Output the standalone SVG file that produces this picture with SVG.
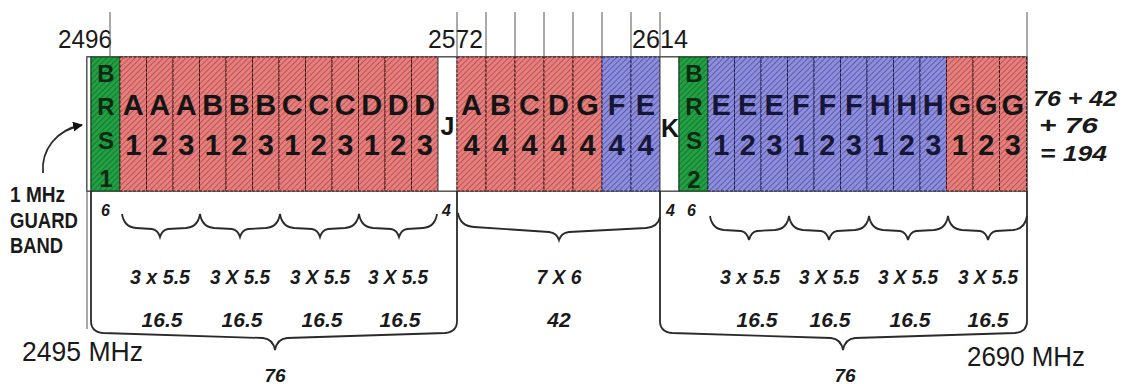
<svg xmlns="http://www.w3.org/2000/svg" width="1125" height="384" viewBox="0 0 1125 384">
<defs>
<pattern id="hr" width="4" height="4" patternUnits="userSpaceOnUse" patternTransform="rotate(45)"><rect width="4" height="4" fill="#e6807f"/><line x1="0.5" y1="0" x2="0.5" y2="4" stroke="#bd5354" stroke-width="1.1"/></pattern>
<pattern id="hb" width="4" height="4" patternUnits="userSpaceOnUse" patternTransform="rotate(45)"><rect width="4" height="4" fill="#8e8edc"/><line x1="0.5" y1="0" x2="0.5" y2="4" stroke="#5d5db0" stroke-width="1.1"/></pattern>
<pattern id="hg" width="4" height="4" patternUnits="userSpaceOnUse" patternTransform="rotate(45)"><rect width="4" height="4" fill="#23a044"/><line x1="0.5" y1="0" x2="0.5" y2="4" stroke="#137a30" stroke-width="1.1"/></pattern>
<marker id="ah" viewBox="0 0 10 10" refX="9" refY="5" markerWidth="10" markerHeight="10" markerUnits="userSpaceOnUse" orient="auto"><path d="M0,0 L10,5 L0,10 Z" fill="#111"/></marker>
</defs>
<style>
.r{fill:url(#hr);stroke:#3a1414;stroke-width:1;stroke-dasharray:3 1.5}
.b{fill:url(#hb);stroke:#1e1e4a;stroke-width:1;stroke-dasharray:3 1.5}
.g{fill:url(#hg);stroke:#0d3d18;stroke-width:1}
.cl{font-family:"Liberation Sans",Arial,sans-serif;font-weight:bold;font-size:29px;fill:#151515;text-anchor:middle}
.bl{font-family:"Liberation Sans",Arial,sans-serif;font-weight:bold;font-size:29px;fill:#161638;text-anchor:middle}
.brs{font-family:"Liberation Sans",Arial,sans-serif;font-weight:bold;font-size:24px;fill:#0c2a12;text-anchor:middle}
.freq{font-family:"Liberation Sans",Arial,sans-serif;font-size:25px;fill:#1a1a1a}
.mhz{font-family:"Liberation Sans",Arial,sans-serif;font-size:27px;fill:#1a1a1a}
.bi{font-family:"Liberation Sans",Arial,sans-serif;font-weight:bold;font-style:italic;font-size:21px;fill:#1a1a1a;text-anchor:middle}
.sm{font-family:"Liberation Sans",Arial,sans-serif;font-weight:bold;font-style:italic;font-size:16px;fill:#1a1a1a}
.tot{font-family:"Liberation Sans",Arial,sans-serif;font-weight:bold;font-style:italic;font-size:22px;fill:#1a1a1a}
.gb{font-family:"Liberation Sans",Arial,sans-serif;font-weight:bold;font-size:22px;fill:#1a1a1a}
.ln{stroke:#555;stroke-width:1;fill:none}
.br{stroke:#2a2a2a;stroke-width:1.8;fill:none}
</style>

<g id="frequency-labels">
<text class="freq" x="58" y="48" textLength="54" lengthAdjust="spacingAndGlyphs">2496</text>
<text class="freq" x="428" y="48" textLength="55" lengthAdjust="spacingAndGlyphs">2572</text>
<text class="freq" x="632" y="48" textLength="56" lengthAdjust="spacingAndGlyphs">2614</text>
<text class="mhz" x="22" y="361" textLength="121" lengthAdjust="spacingAndGlyphs">2495 MHz</text>
<text class="mhz" x="967" y="366" textLength="118" lengthAdjust="spacingAndGlyphs">2690 MHz</text>
</g>

<g id="band-bar">
<rect x="87" y="57" width="940" height="134" fill="#fff" stroke="#444" stroke-width="1.5"/>
</g>

<g id="guard-band"><rect x="87" y="57" width="4" height="134" fill="#fff" stroke="#444" stroke-width="1"/></g>
<g id="brs1"><rect class="g" x="91" y="57" width="29" height="134"/>
<text class="brs" x="106"><tspan y="82">B</tspan><tspan x="106" y="115">R</tspan><tspan x="106" y="149">S</tspan><tspan x="106" y="187">1</tspan></text></g>

<g id="A1"><rect class="r" x="120" y="57" width="26.5" height="134"/><text class="cl" x="133.25"><tspan y="115">A</tspan><tspan x="133.25" y="155">1</tspan></text></g>
<g id="A2"><rect class="r" x="146.5" y="57" width="26.5" height="134"/><text class="cl" x="159.75"><tspan y="115">A</tspan><tspan x="159.75" y="155">2</tspan></text></g>
<g id="A3"><rect class="r" x="173" y="57" width="26.5" height="134"/><text class="cl" x="186.25"><tspan y="115">A</tspan><tspan x="186.25" y="155">3</tspan></text></g>
<g id="B1"><rect class="r" x="199.5" y="57" width="26.5" height="134"/><text class="cl" x="212.75"><tspan y="115">B</tspan><tspan x="212.75" y="155">1</tspan></text></g>
<g id="B2"><rect class="r" x="226" y="57" width="26.5" height="134"/><text class="cl" x="239.25"><tspan y="115">B</tspan><tspan x="239.25" y="155">2</tspan></text></g>
<g id="B3"><rect class="r" x="252.5" y="57" width="26.5" height="134"/><text class="cl" x="265.75"><tspan y="115">B</tspan><tspan x="265.75" y="155">3</tspan></text></g>
<g id="C1"><rect class="r" x="279" y="57" width="26.5" height="134"/><text class="cl" x="292.25"><tspan y="115">C</tspan><tspan x="292.25" y="155">1</tspan></text></g>
<g id="C2"><rect class="r" x="305.5" y="57" width="26.5" height="134"/><text class="cl" x="318.75"><tspan y="115">C</tspan><tspan x="318.75" y="155">2</tspan></text></g>
<g id="C3"><rect class="r" x="332" y="57" width="26.5" height="134"/><text class="cl" x="345.25"><tspan y="115">C</tspan><tspan x="345.25" y="155">3</tspan></text></g>
<g id="D1"><rect class="r" x="358.5" y="57" width="26.5" height="134"/><text class="cl" x="371.75"><tspan y="115">D</tspan><tspan x="371.75" y="155">1</tspan></text></g>
<g id="D2"><rect class="r" x="385" y="57" width="26.5" height="134"/><text class="cl" x="398.25"><tspan y="115">D</tspan><tspan x="398.25" y="155">2</tspan></text></g>
<g id="D3"><rect class="r" x="411.5" y="57" width="26.5" height="134"/><text class="cl" x="424.75"><tspan y="115">D</tspan><tspan x="424.75" y="155">3</tspan></text></g>

<g id="J"><rect x="438" y="57" width="19" height="134" fill="#fff" stroke="#444" stroke-width="1"/><text class="cl" x="447.5" y="135" style="font-size:25px">J</text></g>

<g id="A4"><rect class="r" x="457" y="57" width="29" height="134"/><text class="cl" x="471.5"><tspan y="115">A</tspan><tspan x="471.5" y="155">4</tspan></text></g>
<g id="B4"><rect class="r" x="486" y="57" width="29" height="134"/><text class="cl" x="500.5"><tspan y="115">B</tspan><tspan x="500.5" y="155">4</tspan></text></g>
<g id="C4"><rect class="r" x="515" y="57" width="29" height="134"/><text class="cl" x="529.5"><tspan y="115">C</tspan><tspan x="529.5" y="155">4</tspan></text></g>
<g id="D4"><rect class="r" x="544" y="57" width="29" height="134"/><text class="cl" x="558.5"><tspan y="115">D</tspan><tspan x="558.5" y="155">4</tspan></text></g>
<g id="G4"><rect class="r" x="573" y="57" width="29" height="134"/><text class="cl" x="587.5"><tspan y="115">G</tspan><tspan x="587.5" y="155">4</tspan></text></g>
<g id="F4"><rect class="b" x="602" y="57" width="29" height="134"/><text class="bl" x="616.5"><tspan y="115">F</tspan><tspan x="616.5" y="155">4</tspan></text></g>
<g id="E4"><rect class="b" x="631" y="57" width="29" height="134"/><text class="bl" x="645.5"><tspan y="115">E</tspan><tspan x="645.5" y="155">4</tspan></text></g>

<g id="K"><rect x="660" y="57" width="19" height="134" fill="#fff" stroke="#444" stroke-width="1"/><text class="cl" x="670" y="137" style="font-size:25px">K</text></g>

<g id="brs2"><rect class="g" x="679" y="57" width="29" height="134"/>
<text class="brs" x="694"><tspan y="82">B</tspan><tspan x="694" y="115">R</tspan><tspan x="694" y="149">S</tspan><tspan x="694" y="188">2</tspan></text></g>

<g id="E1"><rect class="b" x="708" y="57" width="26.5" height="134"/><text class="bl" x="721.25"><tspan y="115">E</tspan><tspan x="721.25" y="155">1</tspan></text></g>
<g id="E2"><rect class="b" x="734.5" y="57" width="26.5" height="134"/><text class="bl" x="747.75"><tspan y="115">E</tspan><tspan x="747.75" y="155">2</tspan></text></g>
<g id="E3"><rect class="b" x="761" y="57" width="26.5" height="134"/><text class="bl" x="774.25"><tspan y="115">E</tspan><tspan x="774.25" y="155">3</tspan></text></g>
<g id="F1"><rect class="b" x="787.5" y="57" width="26.5" height="134"/><text class="bl" x="800.75"><tspan y="115">F</tspan><tspan x="800.75" y="155">1</tspan></text></g>
<g id="F2"><rect class="b" x="814" y="57" width="26.5" height="134"/><text class="bl" x="827.25"><tspan y="115">F</tspan><tspan x="827.25" y="155">2</tspan></text></g>
<g id="F3"><rect class="b" x="840.5" y="57" width="26.5" height="134"/><text class="bl" x="853.75"><tspan y="115">F</tspan><tspan x="853.75" y="155">3</tspan></text></g>
<g id="H1"><rect class="b" x="867" y="57" width="26.5" height="134"/><text class="bl" x="880.25"><tspan y="115">H</tspan><tspan x="880.25" y="155">1</tspan></text></g>
<g id="H2"><rect class="b" x="893.5" y="57" width="26.5" height="134"/><text class="bl" x="906.75"><tspan y="115">H</tspan><tspan x="906.75" y="155">2</tspan></text></g>
<g id="H3"><rect class="b" x="920" y="57" width="26.5" height="134"/><text class="bl" x="933.25"><tspan y="115">H</tspan><tspan x="933.25" y="155">3</tspan></text></g>
<g id="G1"><rect class="r" x="946.5" y="57" width="26.5" height="134"/><text class="cl" x="959.75"><tspan y="115">G</tspan><tspan x="959.75" y="155">1</tspan></text></g>
<g id="G2"><rect class="r" x="973" y="57" width="26.5" height="134"/><text class="cl" x="986.25"><tspan y="115">G</tspan><tspan x="986.25" y="155">2</tspan></text></g>
<g id="G3"><rect class="r" x="999.5" y="57" width="27" height="134"/><text class="cl" x="1012.75"><tspan y="115">G</tspan><tspan x="1012.75" y="155">3</tspan></text></g>

<g id="connectors">
<path class="ln" d="M110,12 V57 M457,12 V57 M486,12 V57 M515,12 V57 M544,12 V57 M573,12 V57 M602,12 V57 M631,12 V57 M660,12 V57 M1027,12 V57"/>
<path class="ln" d="M87,191 V329"/>
<path class="br" d="M457,191 V321 Q457,332 445,333 L287,338 Q277,339 275,350 Q273,339 263,338 L103,333 Q91,332 91,321 V191"/>
<path class="br" d="M660,191 V321 Q660,332 672,333 L831,338 Q841,339 843,350 Q845,339 855,338 L1015,333 Q1027,332 1027,321 V191"/>
<path class="br" d="M122,214 Q124,227 136,228 L152,229 Q158,230 160,237 Q162,230 168,229 L186,228 Q198,227 200,214 Q202,227 214,228 L232,229 Q238,230 240,237 Q242,230 248,229 L266,228 Q278,227 280,214 Q282,227 294,228 L312,229 Q318,230 320,237 Q322,230 328,229 L345,228 Q357,227 359,214 Q361,227 373,228 L391,229 Q397,230 399,237 Q401,230 407,229 L423,228 Q435,227 437,214"/>
<path class="br" d="M710,216 Q712,229 724,230 L741,231 Q747,232 749,240 Q751,232 757,231 L775,230 Q787,229 789,216 Q791,229 803,230 L821,231 Q827,232 829,240 Q831,232 837,231 L855,230 Q867,229 869,216 Q871,229 883,230 L900,231 Q906,232 908,240 Q910,232 916,231 L934,230 Q946,229 948,216 Q950,229 962,230 L980,231 Q986,232 988,240 Q990,232 996,231 L1013,230 Q1025,229 1027,216"/>
<path class="br" d="M458,213 Q460,226 474,227 L549,232 Q557,233 559,240 Q561,233 569,232 L646,228 Q658,227 660,217"/>
<path class="br" d="M43,173 C41,150 56,130 82,125" marker-end="url(#ah)"/>
</g>

<g id="guard-label">
<text class="gb" x="10" y="202" textLength="55" lengthAdjust="spacingAndGlyphs">1 MHz</text>
<text class="gb" x="10" y="228" textLength="68" lengthAdjust="spacingAndGlyphs">GUARD</text>
<text class="gb" x="10" y="253" textLength="53" lengthAdjust="spacingAndGlyphs">BAND</text>
</g>

<g id="small-labels">
<text class="sm" x="101" y="216">6</text>
<text class="sm" x="442" y="216">4</text>
<text class="sm" x="666" y="216">4</text>
<text class="sm" x="687" y="216">6</text>
</g>

<g id="width-labels">
<text class="bi" x="160" y="284" textLength="60" lengthAdjust="spacingAndGlyphs">3 x 5.5</text>
<text class="bi" x="240" y="284" textLength="60" lengthAdjust="spacingAndGlyphs">3 X 5.5</text>
<text class="bi" x="320" y="284" textLength="60" lengthAdjust="spacingAndGlyphs">3 X 5.5</text>
<text class="bi" x="398" y="284" textLength="60" lengthAdjust="spacingAndGlyphs">3 X 5.5</text>
<text class="bi" x="162" y="327">16.5</text>
<text class="bi" x="242" y="327">16.5</text>
<text class="bi" x="322" y="327">16.5</text>
<text class="bi" x="400" y="327">16.5</text>
<text class="bi" x="275" y="382" style="font-size:19px">76</text>
<text class="bi" x="559" y="284" textLength="45" lengthAdjust="spacingAndGlyphs">7 X 6</text>
<text class="bi" x="559" y="327">42</text>
<text class="bi" x="750" y="284" textLength="60" lengthAdjust="spacingAndGlyphs">3 x 5.5</text>
<text class="bi" x="829" y="284" textLength="60" lengthAdjust="spacingAndGlyphs">3 X 5.5</text>
<text class="bi" x="908" y="284" textLength="60" lengthAdjust="spacingAndGlyphs">3 X 5.5</text>
<text class="bi" x="988" y="284" textLength="60" lengthAdjust="spacingAndGlyphs">3 X 5.5</text>
<text class="bi" x="757" y="327">16.5</text>
<text class="bi" x="830" y="327">16.5</text>
<text class="bi" x="910" y="327">16.5</text>
<text class="bi" x="988" y="327">16.5</text>
<text class="bi" x="845" y="382" style="font-size:19px">76</text>
</g>

<g id="total-label">
<text class="tot" x="1033" y="106" textLength="84" lengthAdjust="spacingAndGlyphs">76 + 42</text>
<text class="tot" x="1039" y="133" textLength="59" lengthAdjust="spacingAndGlyphs">+ 76</text>
<text class="tot" x="1040" y="161" textLength="67" lengthAdjust="spacingAndGlyphs">= 194</text>
</g>
</svg>
